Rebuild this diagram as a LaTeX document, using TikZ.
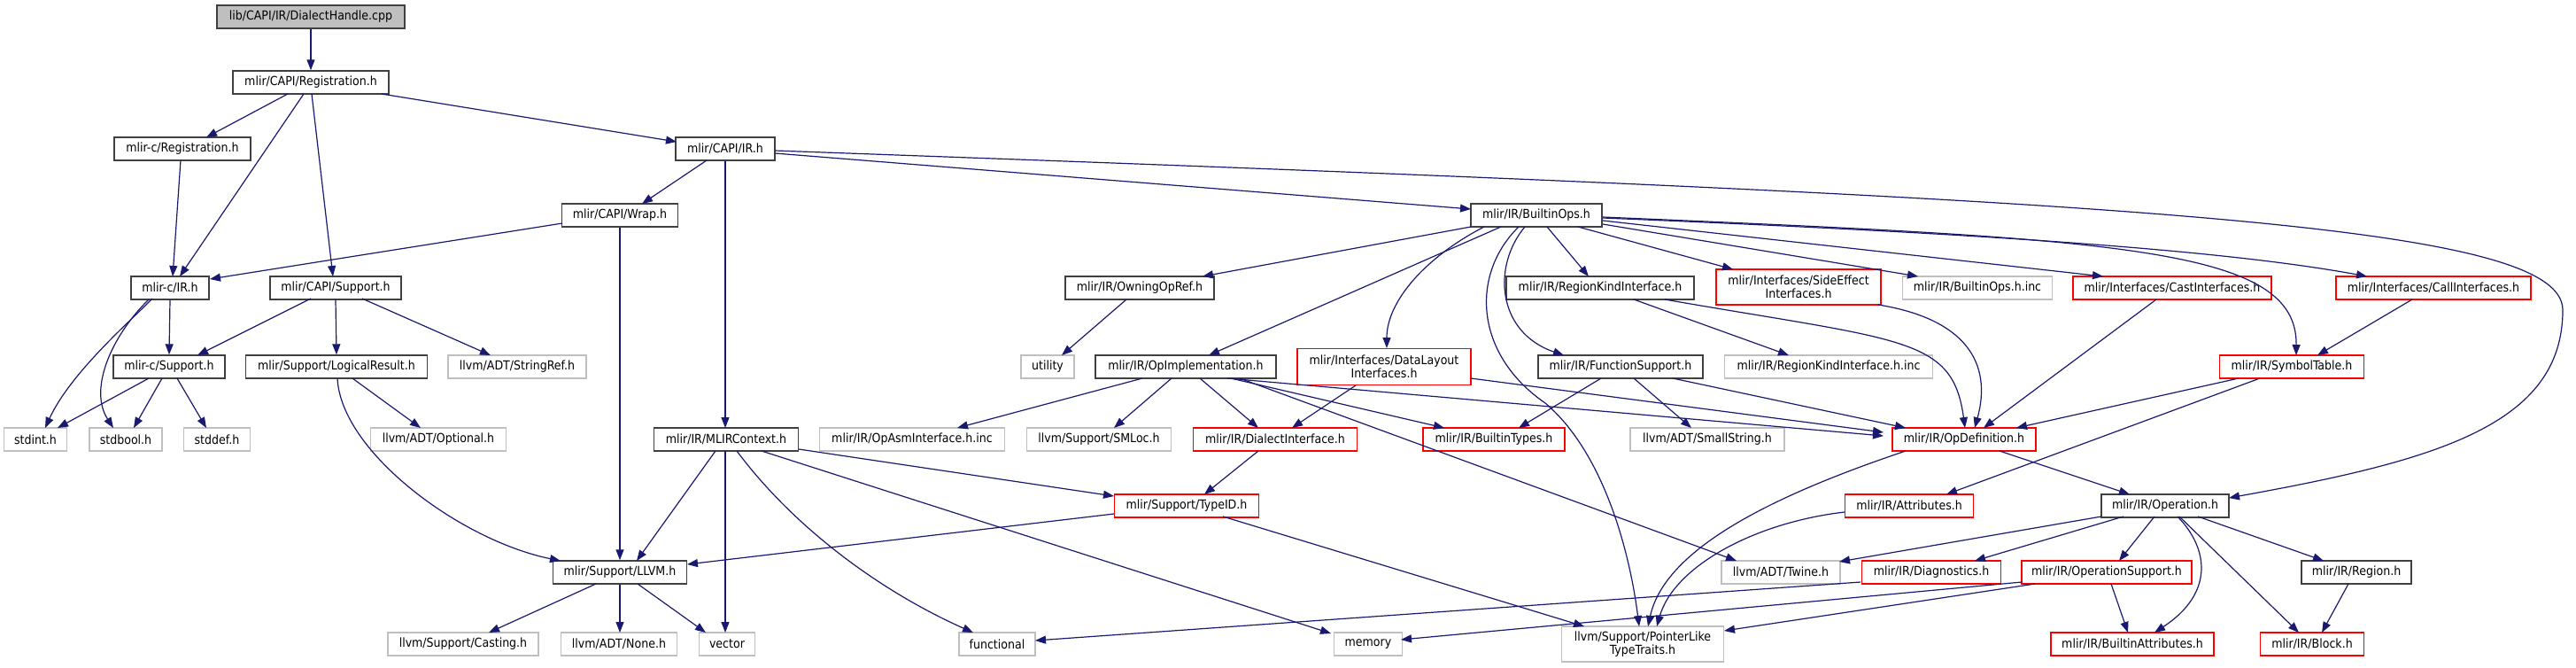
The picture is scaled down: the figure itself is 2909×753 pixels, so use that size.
\documentclass[tikz,border=0pt]{standalone}
\usepackage{fontspec}
\setmainfont{DejaVu Sans Condensed}
\usetikzlibrary{arrows.meta}
\definecolor{edgeblue}{HTML}{191970}
\definecolor{nodegray}{HTML}{BFBFBF}
\definecolor{nodered}{HTML}{FF0000}
\definecolor{nodeblack}{HTML}{404040}
\begin{document}
\begin{tikzpicture}[x=1pt,y=-1pt,
  box/.style={rectangle,draw,line width=1.4pt,minimum height=26pt,inner sep=0pt,font=\fontsize{14}{15}\selectfont,align=center},
  nb/.style={box,draw=nodeblack},
  ng/.style={box,draw=nodegray},
  nr/.style={box,draw=nodered},
  root/.style={box,draw=nodeblack,fill=nodegray},
  e/.style={draw=edgeblue,line width=1.2pt,-{Triangle[length=12pt,width=9pt]}},
]
\useasboundingbox[fill=white] (0,0) rectangle (2909,753);
% nodes
\node[root,minimum width=212pt] (dh) at (351,19) {lib/CAPI/IR/DialectHandle.cpp};
\node[nb,minimum width=176pt] (creg) at (351,93) {mlir/CAPI/Registration.h};
\node[nb,minimum width=154pt] (cregc) at (206,168) {mlir-c/Registration.h};
\node[nb,minimum width=112pt] (capiir) at (819,168) {mlir/CAPI/IR.h};
\node[nb,minimum width=131pt] (wrap) at (700,243) {mlir/CAPI/Wrap.h};
\node[nb,minimum width=148pt] (bops) at (1735,243) {mlir/IR/BuiltinOps.h};
\node[nb,minimum width=88pt] (cir) at (192,325) {mlir-c/IR.h};
\node[nb,minimum width=148pt] (capisup) at (379,325) {mlir/CAPI/Support.h};
\node[nb,minimum width=168pt] (owning) at (1287,325) {mlir/IR/OwningOpRef.h};
\node[nb,minimum width=212pt] (rki) at (1807,325) {mlir/IR/RegionKindInterface.h};
\node[nr,minimum width=186pt,minimum height=40pt] (side) at (2031,324) {mlir/Interfaces/SideEffect\\Interfaces.h};
\node[ng,minimum width=169pt] (bopsinc) at (2233,325) {mlir/IR/BuiltinOps.h.inc};
\node[nr,minimum width=224pt] (cast) at (2453,325) {mlir/Interfaces/CastInterfaces.h};
\node[nr,minimum width=220pt] (call) at (2748,325) {mlir/Interfaces/CallInterfaces.h};
\node[nb,minimum width=126pt] (csup) at (191,414) {mlir-c/Support.h};
\node[nb,minimum width=205pt] (logres) at (380,414) {mlir/Support/LogicalResult.h};
\node[ng,minimum width=156pt] (sref) at (584,414) {llvm/ADT/StringRef.h};
\node[ng,minimum width=60pt] (utility) at (1183,414) {utility};
\node[nb,minimum width=204pt] (opimpl) at (1339,414) {mlir/IR/OpImplementation.h};
\node[nr,minimum width=196pt,minimum height=41pt] (dlayout) at (1563,414) {mlir/Interfaces/DataLayout\\Interfaces.h};
\node[nb,minimum width=186pt] (funcsup) at (1830,414) {mlir/IR/FunctionSupport.h};
\node[ng,minimum width=235pt] (rkiinc) at (2065,414) {mlir/IR/RegionKindInterface.h.inc};
\node[nr,minimum width=163pt] (symtab) at (2588,414) {mlir/IR/SymbolTable.h};
\node[ng,minimum width=71pt] (stdint) at (40,496) {stdint.h};
\node[ng,minimum width=82pt] (stdbool) at (142,496) {stdbool.h};
\node[ng,minimum width=75pt] (stddef) at (245,496) {stddef.h};
\node[ng,minimum width=153pt] (optional) at (495,496) {llvm/ADT/Optional.h};
\node[nb,minimum width=163pt] (mlirctx) at (820,496) {mlir/IR/MLIRContext.h};
\node[ng,minimum width=209pt] (opasm) at (1030,496) {mlir/IR/OpAsmInterface.h.inc};
\node[ng,minimum width=163pt] (smloc) at (1241,496) {llvm/Support/SMLoc.h};
\node[nr,minimum width=185pt] (dialif) at (1440,496) {mlir/IR/DialectInterface.h};
\node[nr,minimum width=160pt] (btypes) at (1687,496) {mlir/IR/BuiltinTypes.h};
\node[ng,minimum width=174pt] (smallstr) at (1928,496) {llvm/ADT/SmallString.h};
\node[nr,minimum width=162pt] (opdef) at (2218,496) {mlir/IR/OpDefinition.h};
\node[nr,minimum width=163pt] (typeid) at (1340,571) {mlir/Support/TypeID.h};
\node[nr,minimum width=145pt] (attrs) at (2156,571) {mlir/IR/Attributes.h};
\node[nb,minimum width=144pt] (operation) at (2445,571) {mlir/IR/Operation.h};
\node[nb,minimum width=151pt] (llvm) at (700,646) {mlir/Support/LLVM.h};
\node[ng,minimum width=134pt] (twine) at (2011,646) {llvm/ADT/Twine.h};
\node[nr,minimum width=157pt] (diag) at (2181,646) {mlir/IR/Diagnostics.h};
\node[nr,minimum width=192pt] (opsup) at (2379,646) {mlir/IR/OperationSupport.h};
\node[nb,minimum width=124pt] (region) at (2661,646) {mlir/IR/Region.h};
\node[ng,minimum width=170pt] (casting) at (523,727) {llvm/Support/Casting.h};
\node[ng,minimum width=131pt] (none) at (699,727) {llvm/ADT/None.h};
\node[ng,minimum width=63pt] (vector) at (821,727) {vector};
\node[ng,minimum width=86pt] (functional) at (1126,727) {functional};
\node[ng,minimum width=77pt] (memory) at (1545,727) {memory};
\node[ng,minimum width=183pt,minimum height=40pt] (ptrlike) at (1855,727) {llvm/Support/PointerLike\\TypeTraits.h};
\node[nr,minimum width=184pt] (battrs) at (2408,727) {mlir/IR/BuiltinAttributes.h};
\node[nr,minimum width=117pt] (block) at (2611,727) {mlir/IR/Block.h};
% edges
\draw[e] (dh.south) -- (creg.north);
\draw[e] ([shift={(-26,13)}]creg.center) -- ([shift={(27,-13)}]cregc.center);
\draw[e] ([shift={(-8,13)}]creg.center) -- ([shift={(11,-13)}]cir.center);
\draw[e] ([shift={(1,13)}]creg.center) -- ([shift={(-3,-13)}]capisup.center);
\draw[e] ([shift={(80,13)}]creg.center) -- ([shift={(-55,-8)}]capiir.center);
\draw[e] ([shift={(-2,13)}]cregc.center) -- ([shift={(3,-13)}]cir.center);
\draw[e] ([shift={(-21,13)}]capiir.center) -- ([shift={(25,-13)}]wrap.center);
\draw[e] ([shift={(-65,9)}]wrap.center) -- ([shift={(45,-10)}]cir.center);
\draw[e] (wrap.south) -- (llvm.north);
\draw[e] ([shift={(-20,12)}]cir.center) .. controls (150,360) and (80,420) .. ([shift={(11,-13)}]stdint.center);
\draw[e] ([shift={(-24,13)}]cir.center) .. controls (125,380) and (100,440) .. ([shift={(-14,-13)}]stdbool.center);
\draw[e] (cir.south) -- (csup.north);
\draw[e] ([shift={(-28,12)}]capisup.center) -- ([shift={(32,-13)}]csup.center);
\draw[e] (capisup.south) -- (logres.north);
\draw[e] ([shift={(30,12)}]capisup.center) -- ([shift={(-30,-13)}]sref.center);
\draw[e] ([shift={(-23,13)}]csup.center) -- ([shift={(25,-13)}]stdint.center);
\draw[e] ([shift={(-8,13)}]csup.center) -- ([shift={(9,-13)}]stdbool.center);
\draw[e] ([shift={(9,13)}]csup.center) -- ([shift={(-12,-13)}]stddef.center);
\draw[e] ([shift={(18,13)}]logres.center) -- ([shift={(-20,-13)}]optional.center);
\draw[e] ([shift={(1,13)}]logres.center) .. controls (385,510) and (520,610) .. ([shift={(-67,-13)}]llvm.center);
\draw[e] ([shift={(-27,13)}]llvm.center) -- ([shift={(29,-13)}]casting.center);
\draw[e] (llvm.south) -- ([shift={(1,-13)}]none.center);
\draw[e] ([shift={(20,13)}]llvm.center) -- ([shift={(-24,-13)}]vector.center);
\draw[e] (capiir.south) -- ([shift={(-1,-13)}]mlirctx.center);
\draw[e] ([shift={(-12,13)}]mlirctx.center) -- ([shift={(19,-13)}]llvm.center);
\draw[e] ([shift={(-1,13)}]mlirctx.center) -- ([shift={(-2,-13)}]vector.center);
\draw[e] ([shift={(12,13)}]mlirctx.center) .. controls (900,600) and (1000,670) .. ([shift={(-27,-13)}]functional.center);
\draw[e] ([shift={(40,13)}]mlirctx.center) -- ([shift={(-42,-12)}]memory.center);
\draw[e] ([shift={(82,11)}]mlirctx.center) -- ([shift={(-82,-11)}]typeid.center);
\draw[e] ([shift={(-82,9)}]typeid.center) -- ([shift={(76,-9)}]llvm.center);
\draw[e] ([shift={(41,12)}]typeid.center) -- ([shift={(-66,-20)}]ptrlike.center);
\draw[e] ([shift={(-49,13)}]opimpl.center) -- ([shift={(51,-13)}]opasm.center);
\draw[e] ([shift={(-16,13)}]opimpl.center) -- ([shift={(17,-13)}]smloc.center);
\draw[e] ([shift={(16,13)}]opimpl.center) -- ([shift={(-19,-13)}]dialif.center);
\draw[e] ([shift={(47,13)}]opimpl.center) -- ([shift={(-91,-4)}]opdef.center);
\draw[e] ([shift={(51,13)}]opimpl.center) -- ([shift={(-56,-13)}]btypes.center);
\draw[e] ([shift={(61,13)}]opimpl.center) -- ([shift={(-50,-13)}]twine.center);
\draw[e] ([shift={(-19,13)}]dialif.center) -- ([shift={(20,-13)}]typeid.center);
\draw[e] ([shift={(-15,13)}]owning.center) -- ([shift={(16,-13)}]utility.center);
\draw[e] ([shift={(-74,13)}]bops.center) -- ([shift={(71,-13)}]owning.center);
\draw[e] ([shift={(-40,13)}]bops.center) -- ([shift={(26,-13)}]opimpl.center);
\draw[e] ([shift={(-59,13)}]bops.center) .. controls (1610,290) and (1566,340) .. ([shift={(3,-21)}]dlayout.center);
\draw[e] ([shift={(-20,13)}]bops.center) .. controls (1660,310) and (1665,400) .. (1745,455) .. controls (1810,510) and (1840,620) .. ([shift={(-4,-20)}]ptrlike.center);
\draw[e] ([shift={(-13,13)}]bops.center) .. controls (1685,300) and (1690,375) .. ([shift={(-64,-13)}]funcsup.center);
\draw[e] ([shift={(12,13)}]bops.center) -- ([shift={(-13,-13)}]rki.center);
\draw[e] ([shift={(47,13)}]bops.center) -- ([shift={(-74,-20)}]side.center);
\draw[e] ([shift={(75,10)}]bops.center) -- ([shift={(-67,-13)}]bopsinc.center);
\draw[e] ([shift={(75,6)}]bops.center) -- ([shift={(-78,-13)}]cast.center);
\draw[e] ([shift={(75,3)}]bops.center) .. controls (2200,262) and (2500,280) .. ([shift={(-75,-13)}]call.center);
\draw[e] ([shift={(75,2)}]bops.center) .. controls (2400,270) and (2594,280) .. ([shift={(5,-13)}]symtab.center);
\draw[e] ([shift={(56,5)}]capiir.center) -- ([shift={(-74,-7)}]bops.center);
\draw[e] ([shift={(56,2)}]capiir.center) .. controls (2400,225) and (2894,250) .. (2894,350) .. controls (2894,480) and (2750,520) .. ([shift={(72,-9)}]operation.center);
\draw[e] ([shift={(-60,13)}]symtab.center) -- ([shift={(59,-13)}]opdef.center);
\draw[e] ([shift={(-36,13)}]symtab.center) -- ([shift={(42,-13)}]attrs.center);
\draw[e] ([shift={(-24,13)}]call.center) -- ([shift={(29,-13)}]symtab.center);
\draw[e] ([shift={(-18,13)}]cast.center) -- ([shift={(22,-13)}]opdef.center);
\draw[e] ([shift={(90,20)}]side.center) .. controls (2220,360) and (2250,410) .. ([shift={(12,-13)}]opdef.center);
\draw[e] ([shift={(73,13)}]rki.center) .. controls (2150,385) and (2205,380) .. ([shift={(1,-13)}]opdef.center);
\draw[e] ([shift={(38,13)}]rki.center) -- ([shift={(-45,-13)}]rkiinc.center);
\draw[e] ([shift={(-32,21)}]dlayout.center) -- ([shift={(19,-13)}]dialif.center);
\draw[e] ([shift={(98,13)}]dlayout.center) -- ([shift={(-91,-8)}]opdef.center);
\draw[e] ([shift={(-22,13)}]funcsup.center) -- ([shift={(28,-13)}]btypes.center);
\draw[e] ([shift={(15,13)}]funcsup.center) -- ([shift={(-18,-13)}]smallstr.center);
\draw[e] ([shift={(59,13)}]funcsup.center) -- ([shift={(-66,-13)}]opdef.center);
\draw[e] ([shift={(40,13)}]opdef.center) -- ([shift={(-40,-13)}]operation.center);
\draw[e] ([shift={(-66,13)}]opdef.center) .. controls (2000,560) and (1880,620) .. ([shift={(6,-20)}]ptrlike.center);
\draw[e] ([shift={(-73,7)}]attrs.center) .. controls (1980,590) and (1890,640) .. ([shift={(16,-20)}]ptrlike.center);
\draw[e] ([shift={(-72,12)}]operation.center) -- ([shift={(66,-12)}]twine.center);
\draw[e] ([shift={(-47,12)}]operation.center) -- ([shift={(49,-13)}]diag.center);
\draw[e] ([shift={(-12,12)}]operation.center) -- ([shift={(14,-13)}]opsup.center);
\draw[e] ([shift={(14,12)}]operation.center) .. controls (2495,620) and (2500,670) .. ([shift={(25,-13)}]battrs.center);
\draw[e] ([shift={(16,12)}]operation.center) -- ([shift={(-15,-13)}]block.center);
\draw[e] ([shift={(37,12)}]operation.center) -- ([shift={(-37,-13)}]region.center);
\draw[e] ([shift={(-9,13)}]region.center) -- ([shift={(11,-13)}]block.center);
\draw[e] ([shift={(5,13)}]opsup.center) -- ([shift={(-5,-13)}]battrs.center);
\draw[e] ([shift={(-96,11)}]opsup.center) -- ([shift={(37,-5)}]memory.center);
\draw[e] ([shift={(-81,13)}]opsup.center) -- ([shift={(92,-15)}]ptrlike.center);
\draw[e] ([shift={(-80,11)}]diag.center) -- ([shift={(43,-4)}]functional.center);
\end{tikzpicture}
\end{document}
